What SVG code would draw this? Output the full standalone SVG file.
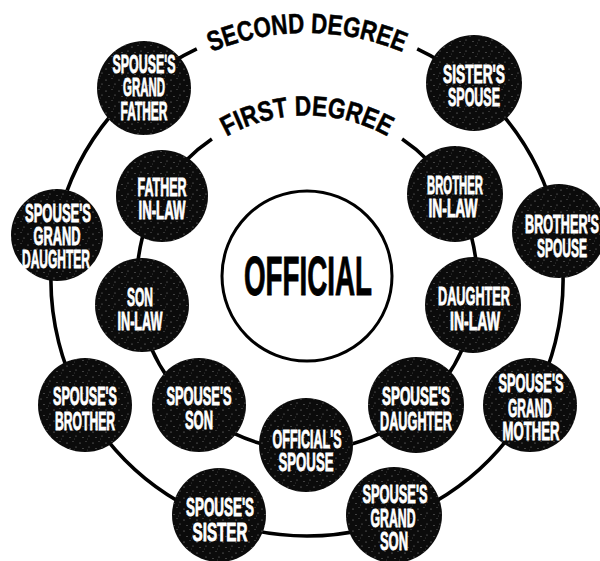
<svg xmlns="http://www.w3.org/2000/svg" width="600" height="561" viewBox="0 0 600 561">
<style>
.ring{fill:none;stroke:#000;stroke-width:3.6;stroke-linecap:butt}
.node{fill:#0b0b0b}
.tex{fill:url(#speck)}
.lbl{fill:#fff;stroke:#fff;stroke-width:0.7;font-family:"Liberation Sans","DejaVu Sans",sans-serif;font-weight:bold;font-size:20px;text-anchor:middle}
.deg{fill:#000;stroke:#000;stroke-width:0.5;font-family:"Liberation Sans","DejaVu Sans",sans-serif;font-weight:bold;font-size:28px;text-anchor:middle}
.center{fill:#fff;stroke:#000;stroke-width:3}
.main{fill:#000;stroke:#000;stroke-width:1;font-family:"Liberation Sans","DejaVu Sans",sans-serif;font-weight:bold;font-size:55px;text-anchor:middle}
</style>
<defs>
<pattern id="speck" width="13" height="11" patternUnits="userSpaceOnUse">
<circle cx="2" cy="3" r="0.6" fill="#9a9a9a"/>
<circle cx="8" cy="1.5" r="0.5" fill="#777"/>
<circle cx="11" cy="7" r="0.6" fill="#888"/>
<circle cx="5" cy="8.5" r="0.5" fill="#999"/>
<circle cx="9.5" cy="10" r="0.4" fill="#666"/>
</pattern>
<path id="outerArc" d="M148.2 90.8 A247 247 0 0 1 465.8 90.8"/>
<path id="innerArc" d="M190.7 163.7 A164.5 164.5 0 0 1 423.3 163.7"/>
</defs>
<g id="connectors">
<path class="ring" d="M196.8 48.9 A256 256 0 1 0 417.2 48.9"/>
<path class="ring" d="M211.9 139.1 A170 170 0 1 0 402.1 139.1"/>
</g>
<g id="labels">
<text class="deg"><textPath href="#outerArc" startOffset="50%" textLength="196" lengthAdjust="spacingAndGlyphs">SECOND DEGREE</textPath></text>
<text class="deg"><textPath href="#innerArc" startOffset="50%" textLength="168" lengthAdjust="spacingAndGlyphs">FIRST DEGREE</textPath></text>
</g>
<g id="official">
<circle class="center" cx="307" cy="276" r="85"/>
<text class="main" x="308" y="295" textLength="128" lengthAdjust="spacingAndGlyphs">OFFICIAL</text>
</g>
<g id="spouses-grandfather">
<circle class="node" cx="144" cy="88" r="47"/><circle class="tex" cx="144" cy="88" r="47"/>
<text class="lbl" transform="translate(144 72.5) scale(1 1.3)" textLength="63" lengthAdjust="spacingAndGlyphs">SPOUSE'S</text>
<text class="lbl" transform="translate(144 95.5) scale(1 1.3)" textLength="42" lengthAdjust="spacingAndGlyphs">GRAND</text>
<text class="lbl" transform="translate(144 119.5) scale(1 1.3)" textLength="47" lengthAdjust="spacingAndGlyphs">FATHER</text>
</g>
<g id="spouses-granddaughter">
<circle class="node" cx="57" cy="235" r="46"/><circle class="tex" cx="57" cy="235" r="46"/>
<text class="lbl" transform="translate(58 221.5) scale(1 1.3)" textLength="66" lengthAdjust="spacingAndGlyphs">SPOUSE'S</text>
<text class="lbl" transform="translate(57 244.5) scale(1 1.3)" textLength="47" lengthAdjust="spacingAndGlyphs">GRAND</text>
<text class="lbl" transform="translate(56 267.5) scale(1 1.3)" textLength="68" lengthAdjust="spacingAndGlyphs">DAUGHTER</text>
</g>
<g id="spouses-brother">
<circle class="node" cx="85" cy="405" r="47"/><circle class="tex" cx="85" cy="405" r="47"/>
<text class="lbl" transform="translate(85 404.5) scale(1 1.3)" textLength="64" lengthAdjust="spacingAndGlyphs">SPOUSE'S</text>
<text class="lbl" transform="translate(85 429.5) scale(1 1.3)" textLength="60" lengthAdjust="spacingAndGlyphs">BROTHER</text>
</g>
<g id="spouses-sister">
<circle class="node" cx="219" cy="515" r="47"/><circle class="tex" cx="219" cy="515" r="47"/>
<text class="lbl" transform="translate(220 515.5) scale(1 1.3)" textLength="68" lengthAdjust="spacingAndGlyphs">SPOUSE'S</text>
<text class="lbl" transform="translate(220 540.5) scale(1 1.3)" textLength="55" lengthAdjust="spacingAndGlyphs">SISTER</text>
</g>
<g id="spouses-grandson">
<circle class="node" cx="394" cy="515" r="48"/><circle class="tex" cx="394" cy="515" r="48"/>
<text class="lbl" transform="translate(395 502.5) scale(1 1.3)" textLength="65" lengthAdjust="spacingAndGlyphs">SPOUSE'S</text>
<text class="lbl" transform="translate(393 526.5) scale(1 1.3)" textLength="45" lengthAdjust="spacingAndGlyphs">GRAND</text>
<text class="lbl" transform="translate(394 549.5) scale(1 1.3)" textLength="28" lengthAdjust="spacingAndGlyphs">SON</text>
</g>
<g id="spouses-grandmother">
<circle class="node" cx="530" cy="405" r="47"/><circle class="tex" cx="530" cy="405" r="47"/>
<text class="lbl" transform="translate(531 391.5) scale(1 1.3)" textLength="65" lengthAdjust="spacingAndGlyphs">SPOUSE'S</text>
<text class="lbl" transform="translate(530 416.5) scale(1 1.3)" textLength="44" lengthAdjust="spacingAndGlyphs">GRAND</text>
<text class="lbl" transform="translate(531 439.5) scale(1 1.3)" textLength="57" lengthAdjust="spacingAndGlyphs">MOTHER</text>
</g>
<g id="brothers-spouse">
<circle class="node" cx="559" cy="231" r="47"/><circle class="tex" cx="559" cy="231" r="47"/>
<text class="lbl" transform="translate(562 232.5) scale(1 1.3)" textLength="74" lengthAdjust="spacingAndGlyphs">BROTHER'S</text>
<text class="lbl" transform="translate(562 256.5) scale(1 1.3)" textLength="50" lengthAdjust="spacingAndGlyphs">SPOUSE</text>
</g>
<g id="sisters-spouse">
<circle class="node" cx="474" cy="83" r="48"/><circle class="tex" cx="474" cy="83" r="48"/>
<text class="lbl" transform="translate(474 82.5) scale(1 1.3)" textLength="62" lengthAdjust="spacingAndGlyphs">SISTER'S</text>
<text class="lbl" transform="translate(474 105.5) scale(1 1.3)" textLength="52" lengthAdjust="spacingAndGlyphs">SPOUSE</text>
</g>
<g id="father-in-law">
<circle class="node" cx="162" cy="196" r="46"/><circle class="tex" cx="162" cy="196" r="46"/>
<text class="lbl" transform="translate(162 195.5) scale(1 1.3)" textLength="49" lengthAdjust="spacingAndGlyphs">FATHER</text>
<text class="lbl" transform="translate(162 218.5) scale(1 1.3)" textLength="47" lengthAdjust="spacingAndGlyphs">IN-LAW</text>
</g>
<g id="son-in-law">
<circle class="node" cx="142" cy="305" r="47"/><circle class="tex" cx="142" cy="305" r="47"/>
<text class="lbl" transform="translate(140 305.5) scale(1 1.3)" textLength="26" lengthAdjust="spacingAndGlyphs">SON</text>
<text class="lbl" transform="translate(140 329.5) scale(1 1.3)" textLength="45" lengthAdjust="spacingAndGlyphs">IN-LAW</text>
</g>
<g id="spouses-son">
<circle class="node" cx="199" cy="405" r="47"/><circle class="tex" cx="199" cy="405" r="47"/>
<text class="lbl" transform="translate(199 404.5) scale(1 1.3)" textLength="65" lengthAdjust="spacingAndGlyphs">SPOUSE'S</text>
<text class="lbl" transform="translate(199 428.5) scale(1 1.3)" textLength="28" lengthAdjust="spacingAndGlyphs">SON</text>
</g>
<g id="officials-spouse">
<circle class="node" cx="306" cy="445" r="47"/><circle class="tex" cx="306" cy="445" r="47"/>
<text class="lbl" transform="translate(307 447.5) scale(1 1.3)" textLength="69" lengthAdjust="spacingAndGlyphs">OFFICIAL'S</text>
<text class="lbl" transform="translate(306 470.5) scale(1 1.3)" textLength="55" lengthAdjust="spacingAndGlyphs">SPOUSE</text>
</g>
<g id="spouses-daughter">
<circle class="node" cx="416" cy="405" r="48"/><circle class="tex" cx="416" cy="405" r="48"/>
<text class="lbl" transform="translate(416 404.5) scale(1 1.3)" textLength="68" lengthAdjust="spacingAndGlyphs">SPOUSE'S</text>
<text class="lbl" transform="translate(416 429.5) scale(1 1.3)" textLength="72" lengthAdjust="spacingAndGlyphs">DAUGHTER</text>
</g>
<g id="daughter-in-law">
<circle class="node" cx="473" cy="305" r="48"/><circle class="tex" cx="473" cy="305" r="48"/>
<text class="lbl" transform="translate(474 304.5) scale(1 1.3)" textLength="72" lengthAdjust="spacingAndGlyphs">DAUGHTER</text>
<text class="lbl" transform="translate(475 329.5) scale(1 1.3)" textLength="50" lengthAdjust="spacingAndGlyphs">IN-LAW</text>
</g>
<g id="brother-in-law">
<circle class="node" cx="455" cy="194" r="48"/><circle class="tex" cx="455" cy="194" r="48"/>
<text class="lbl" transform="translate(455 193.5) scale(1 1.3)" textLength="56" lengthAdjust="spacingAndGlyphs">BROTHER</text>
<text class="lbl" transform="translate(453 216.5) scale(1 1.3)" textLength="49" lengthAdjust="spacingAndGlyphs">IN-LAW</text>
</g>
</svg>
